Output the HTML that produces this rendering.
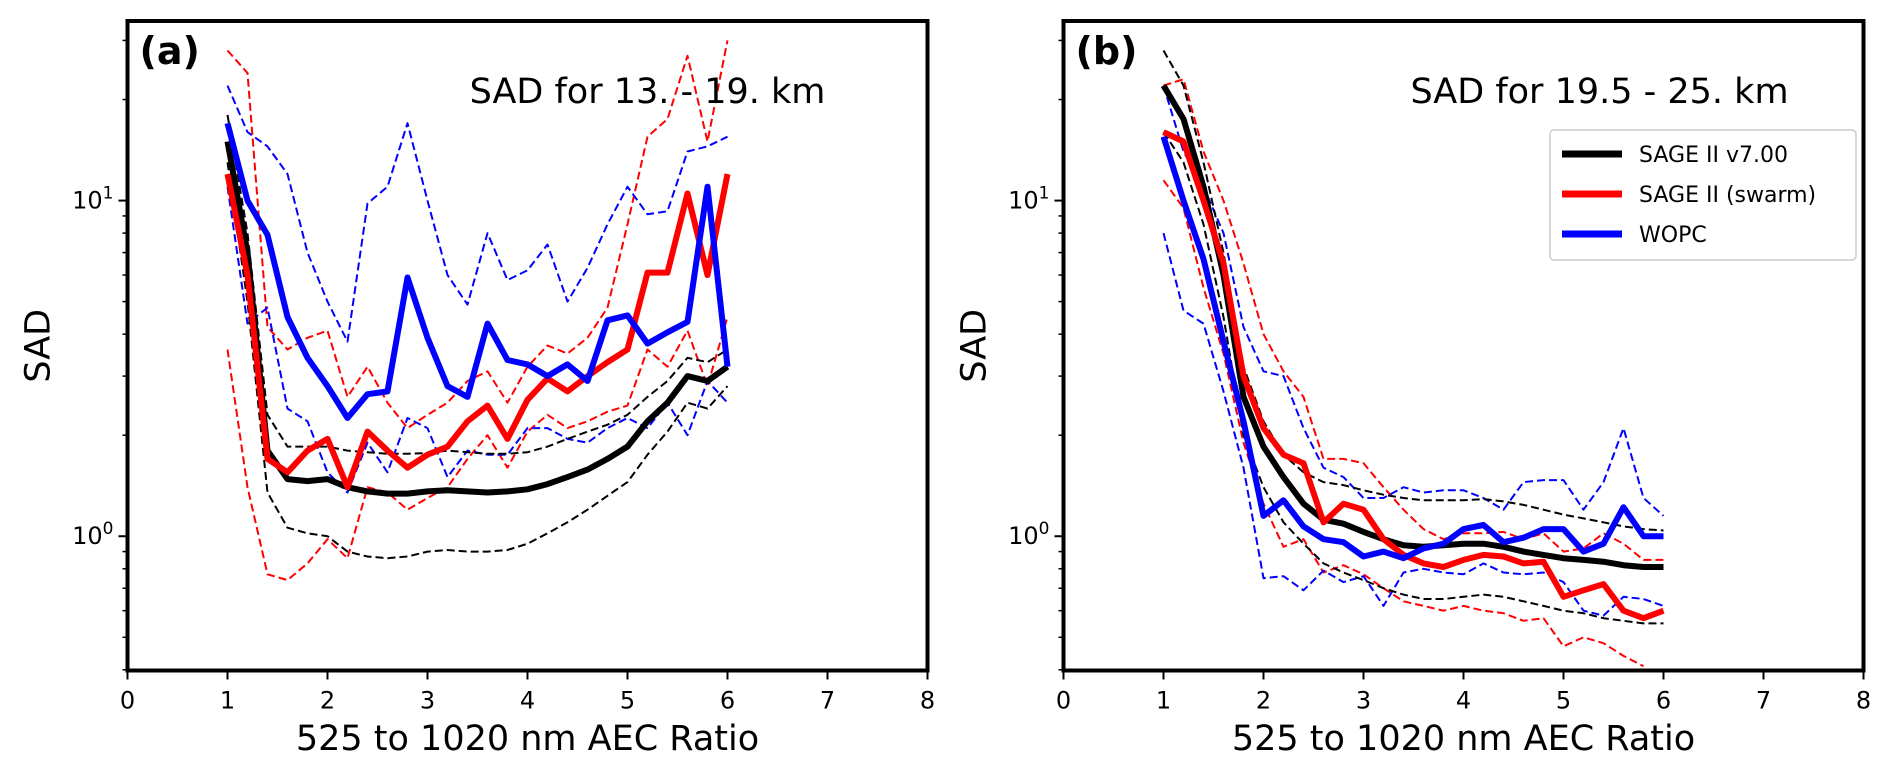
<!DOCTYPE html>
<html><head><meta charset="utf-8">
<style>
html,body{margin:0;padding:0;background:#fff;}
svg{display:block;font-family:"DejaVu Sans","Liberation Sans",sans-serif;}
</style></head>
<body>
<svg id="chart" width="1892" height="774" viewBox="0 0 1892 774" xmlns="http://www.w3.org/2000/svg"></svg>
<script>
const xs = [1.0,1.2,1.4,1.6,1.8,2.0,2.2,2.4,2.6,2.8,3.0,3.2,3.4,3.6,3.8,4.0,4.2,4.4,4.6,4.8,5.0,5.2,5.4,5.6,5.8,6.0];
const xTicks = [0,1,2,3,4,5,6,7,8];
const yMajor = [1,10];
const legendLabels = ["SAGE II v7.00","SAGE II (swarm)","WOPC"];
// Panel (a)
const aBlack = [15,7,1.8,1.48,1.46,1.48,1.4,1.36,1.34,1.34,1.36,1.37,1.36,1.35,1.36,1.38,1.43,1.5,1.58,1.7,1.85,2.2,2.5,3.0,2.9,3.2];
const aBlackHi = [18,8,2.3,1.85,1.85,1.85,1.8,1.78,1.76,1.76,1.77,1.8,1.78,1.76,1.76,1.78,1.85,1.95,2.05,2.15,2.3,2.6,2.9,3.4,3.3,3.6];
const aBlackLo = [13,5,1.35,1.06,1.02,1.0,0.9,0.87,0.86,0.87,0.9,0.91,0.9,0.9,0.91,0.95,1.02,1.1,1.2,1.32,1.45,1.75,2.05,2.5,2.4,2.8];
const aRed = [12,6,1.7,1.55,1.8,1.95,1.4,2.05,1.8,1.6,1.75,1.85,2.2,2.45,1.95,2.55,2.95,2.7,3.0,3.3,3.6,6.1,6.1,10.5,6.0,12];
const aRedHi = [28,24,4.2,3.6,3.9,4.1,2.6,3.2,2.5,2.1,2.3,2.5,2.9,3.1,2.5,3.2,3.7,3.5,3.9,4.8,8.5,15.5,17.5,27,15,30];
const aRedLo = [3.6,1.4,0.77,0.74,0.83,0.98,0.86,1.4,1.35,1.2,1.3,1.4,1.7,2.0,1.6,2.05,2.3,2.1,2.2,2.35,2.45,3.6,3.2,4.1,2.8,4.5];
const aBlue = [17,10,7.9,4.5,3.4,2.8,2.25,2.65,2.7,5.9,3.9,2.8,2.6,4.3,3.35,3.25,3.0,3.25,2.9,4.4,4.55,3.75,4.05,4.35,11,3.2];
const aBlueHi = [22,16,14.5,12,7,5,3.8,9.8,11,17,10,6,4.9,8,5.8,6.2,7.4,5,6.3,8.5,11,9.1,9.3,14,14.5,15.5];
const aBlueLo = [11,4.3,4.8,2.4,2.2,1.55,1.35,1.9,1.55,2.25,2.1,1.5,1.8,1.75,1.75,2.1,2.1,1.95,1.9,2.1,2.25,2.1,2.5,2.0,2.9,2.5];
// Panel (b)
const bBlack = [22,17.5,11,6,2.6,1.85,1.5,1.25,1.12,1.09,1.03,0.98,0.94,0.93,0.94,0.95,0.95,0.93,0.9,0.88,0.86,0.85,0.84,0.82,0.81,0.81];
const bBlackHi = [28,22,13,7,3.2,2.2,1.75,1.55,1.45,1.42,1.37,1.33,1.3,1.28,1.28,1.28,1.29,1.27,1.24,1.2,1.16,1.13,1.1,1.07,1.05,1.04];
const bBlackLo = [16,13,8.5,4.5,2.0,1.4,1.1,0.95,0.83,0.78,0.74,0.7,0.67,0.65,0.65,0.66,0.67,0.66,0.64,0.62,0.6,0.59,0.57,0.56,0.55,0.55];
const bRed = [16,15,10,6.5,3,2.1,1.75,1.65,1.1,1.25,1.2,0.98,0.88,0.83,0.81,0.85,0.88,0.87,0.83,0.84,0.66,0.69,0.72,0.6,0.57,0.6];
const bRedHi = [22,23,14,10,6.5,4,3.1,2.6,1.7,1.7,1.65,1.4,1.2,1.05,0.98,1.02,1.02,1.03,0.98,1.02,0.9,0.92,1.02,0.95,0.85,0.85];
const bRedLo = [11.5,9.5,5.5,3.5,1.9,1.25,0.93,0.98,0.78,0.82,0.77,0.7,0.64,0.62,0.6,0.62,0.6,0.59,0.56,0.57,0.47,0.5,0.48,0.44,0.41,null];
const bBlue = [15.5,10,6.7,3.8,2.2,1.15,1.28,1.07,0.98,0.96,0.87,0.9,0.86,0.92,0.95,1.05,1.08,0.96,0.99,1.05,1.05,0.9,0.95,1.22,1.0,1.0];
const bBlueHi = [22,14,11,8,4.2,3.1,3.0,2.1,1.6,1.5,1.3,1.3,1.4,1.35,1.37,1.37,1.3,1.2,1.45,1.47,1.47,1.2,1.45,2.1,1.3,1.15];
const bBlueLo = [8,4.7,4.3,2.7,1.6,0.75,0.76,0.69,0.79,0.73,0.76,0.62,0.78,0.8,0.78,0.77,0.83,0.78,0.77,0.78,0.73,0.6,0.58,0.66,0.65,0.62];

const NS="http://www.w3.org/2000/svg";
const svg=document.getElementById('chart');
const TOP=21, BOT=670.5, LMIN=-0.40, LMAX=1.535;
function yScale(v){return BOT-(Math.log10(v)-LMIN)/(LMAX-LMIN)*(BOT-TOP);}
function mk(tag,attrs,parent){const e=document.createElementNS(NS,tag);for(const k in attrs)e.setAttribute(k,attrs[k]);(parent||svg).appendChild(e);return e;}

function panel(x0, letter, title, titleX, series, showLegend){
  const g=mk('g',{});
  
  
  const xS=v=>x0+v*100;
  const cp=mk('clipPath',{id:'clip'+letter},g);
  mk('rect',{x:x0,y:TOP,width:800,height:BOT-TOP},cp);
  const lg=mk('g',{'clip-path':'url(#clip'+letter+')'},g);
  series.forEach(s=>{
    let d='';let pen=false;
    s.data.forEach((v,i)=>{ if(v==null){pen=false;return;} d+=(pen?'L':'M')+xS(xs[i]).toFixed(1)+','+yScale(v).toFixed(1); pen=true;});
    const p=mk('path',{d:d,fill:'none',stroke:s.color,'stroke-width':s.dash?2:6,'stroke-dasharray':s.dash?'8,4':'none','stroke-linejoin':'round'},lg);
    
    
  });
  const fr=mk('rect',{x:x0,y:TOP,width:800,height:BOT-TOP,fill:'none',stroke:'#000','stroke-width':4},g);
  
  
  xTicks.forEach(t=>{
    mk('line',{x1:xS(t),x2:xS(t),y1:BOT,y2:BOT+9,stroke:'#000','stroke-width':2},g);
    const tx=mk('text',{x:xS(t),y:BOT+38,'font-size':24,'text-anchor':'middle'},g);
    tx.textContent=t;
    
    
  });
  for(let e=-1;e<=1;e++){for(let m=1;m<=9;m++){const v=m*Math.pow(10,e);const lv=Math.log10(v);if(lv<LMIN||lv>LMAX)continue;
    const major=m===1;
    mk('line',{x1:x0-(major?9:5),x2:x0,y1:yScale(v),y2:yScale(v),stroke:'#000','stroke-width':major?2:1.5},g);}}
  yMajor.forEach(v=>{
    const e=Math.round(Math.log10(v));
    const tx=mk('text',{x:x0-14,y:yScale(v)+8,'font-size':24,'text-anchor':'end'},g);
    
    
    tx.appendChild(document.createTextNode('10'));
    const sp=mk('tspan',{dy:-10,'font-size':17},tx);sp.textContent=e;
  });
  const xl=mk('text',{x:x0+400,y:750,'font-size':35,'text-anchor':'middle'},g);
  xl.textContent='525 to 1020 nm AEC Ratio';
  
  
  const yl=mk('text',{x:0,y:0,'font-size':35,'text-anchor':'middle',transform:'translate('+(x0-78)+','+((TOP+BOT)/2)+') rotate(-90)'},g);
  yl.textContent='SAD';
  
  
  const pl=mk('text',{x:x0+12,y:64,'font-size':38,'font-weight':'bold'},g);
  pl.textContent='('+letter+')';
  
  
  const tt=mk('text',{x:x0+titleX,y:103,'font-size':35,'text-anchor':'middle'},g);
  tt.textContent=title;
  
  
  if(showLegend){
    const lgG=mk('g',{},g);
    
    
    mk('rect',{x:1550,y:130,width:306,height:130,rx:4,fill:'#fff',stroke:'#ccc','stroke-width':1.5},lgG);
    const cols=['#000','#f00','#00f'];
    legendLabels.forEach((lab,i)=>{
      const y=154+i*40;
      const ln=mk('line',{x1:1562,x2:1622,y1:y,y2:y,stroke:cols[i],'stroke-width':7},lgG);
      
      
      const t=mk('text',{x:1639,y:y+8,'font-size':22},lgG);
      t.textContent=lab;
      
      
    });
  }
}
panel(127.5,'a','SAD for 13. - 19. km',520,[
  {name:'red-upper-a',color:'#f00',dash:true,data:aRedHi},{name:'red-lower-a',color:'#f00',dash:true,data:aRedLo},
  {name:'blue-upper-a',color:'#00f',dash:true,data:aBlueHi},{name:'blue-lower-a',color:'#00f',dash:true,data:aBlueLo},
  {name:'black-upper-a',color:'#000',dash:true,data:aBlackHi},{name:'black-lower-a',color:'#000',dash:true,data:aBlackLo},
  {name:'sage-v7-line-a',color:'#000',dash:false,data:aBlack},{name:'sage-swarm-line-a',color:'#f00',dash:false,data:aRed},
  {name:'wopc-line-a',color:'#00f',dash:false,data:aBlue}],false);
panel(1063.5,'b','SAD for 19.5 - 25. km',536,[
  {name:'red-upper-b',color:'#f00',dash:true,data:bRedHi},{name:'red-lower-b',color:'#f00',dash:true,data:bRedLo},
  {name:'blue-upper-b',color:'#00f',dash:true,data:bBlueHi},{name:'blue-lower-b',color:'#00f',dash:true,data:bBlueLo},
  {name:'black-upper-b',color:'#000',dash:true,data:bBlackHi},{name:'black-lower-b',color:'#000',dash:true,data:bBlackLo},
  {name:'sage-v7-line-b',color:'#000',dash:false,data:bBlack},{name:'sage-swarm-line-b',color:'#f00',dash:false,data:bRed},
  {name:'wopc-line-b',color:'#00f',dash:false,data:bBlue}],true);
</script>
</body></html>
